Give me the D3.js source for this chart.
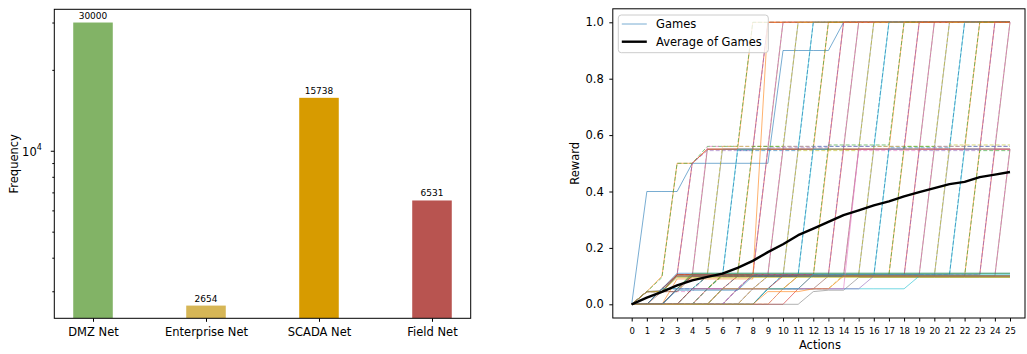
<!DOCTYPE html>
<html>
<head>
<meta charset="utf-8">
<script src="https://cdn.jsdelivr.net/npm/d3@7"></script>
<style>
  body { margin: 0; background: #fff; }
  svg { display: block; }
  text { font-family: "DejaVu Sans", sans-serif; fill: #000; }
</style>
</head>
<body>
<svg id="chart" width="1027" height="354"></svg>
<script>
// ---- Left panel: frequency per network zone ----
const categories = ["DMZ Net", "Enterprise Net", "SCADA Net", "Field Net"];
const frequencies = [30000, 2654, 15738, 6531];
const barColors = ["#82b366", "#d6b656", "#d79b00", "#b85450"];

// ---- Right panel: reward per action for every game ----
const actions = [0, 1, 2, 3, 4, 5, 6, 7, 8, 9, 10, 11, 12, 13, 14, 15, 16, 17, 18, 19, 20, 21, 22, 23, 24, 25];
const rewardTicks = [0, 0.2, 0.4, 0.6, 0.8, 1.0];
const averageReward = [0, 0.024, 0.044, 0.067, 0.085, 0.097, 0.109, 0.129, 0.154, 0.185, 0.213, 0.245, 0.268,
  0.292, 0.316, 0.333, 0.351, 0.365, 0.383, 0.398, 0.412, 0.426, 0.434, 0.451, 0.460, 0.469];

const games = [
  [0,0.4,0.4,0.4,0.5,0.5,0.5,0.5,0.5,0.5,0.9,0.9,0.9,0.9,1,1,1,1,1,1,1,1,1,1,1,1],
  [0,0.045,0.1,0.5,0.5,0.55,0.55,0.55,1,1,1,1,1,1,1,1,1,1,1,1,1,1,1,1,1,1],
  [0,0.045,0.095,0.5,0.5,0.56,0.56,0.56,1,1,1,1,1,1,1,1,1,1,1,1,1,1,1,1,1,1],
  [0,0.045,0.045,0.105,0.5,0.55,0.55,0.55,0.55,1,1,1,1,1,1,1,1,1,1,1,1,1,1,1,1,1],
  [0,0,0.055,0.105,0.5,0.545,0.545,0.545,0.545,1,1,1,1,1,1,1,1,1,1,1,1,1,1,1,1,1],
  [0,0.045,0.045,0.1,0.1,0.55,0.55,0.55,0.55,0.55,1,1,1,1,1,1,1,1,1,1,1,1,1,1,1,1],
  [0,0,0.055,0.055,0.1,0.56,0.56,0.56,0.56,0.56,1,1,1,1,1,1,1,1,1,1,1,1,1,1,1,1],
  [0,0,0,0.055,0.105,0.105,0.55,0.55,0.55,0.55,0.55,1,1,1,1,1,1,1,1,1,1,1,1,1,1,1],
  [0,0.045,0.045,0.045,0.105,0.105,0.56,0.56,0.56,0.56,0.56,1,1,1,1,1,1,1,1,1,1,1,1,1,1,1],
  [0,0,0,0,0.055,0.1,0.1,0.55,0.55,0.55,0.55,0.55,1,1,1,1,1,1,1,1,1,1,1,1,1,1],
  [0,0,0.055,0.055,0.055,0.1,0.1,0.545,0.545,0.545,0.545,0.545,1,1,1,1,1,1,1,1,1,1,1,1,1,1],
  [0,0,0,0,0,0.055,0.105,0.105,0.55,0.55,0.55,0.55,0.55,1,1,1,1,1,1,1,1,1,1,1,1,1],
  [0,0.045,0.045,0.105,0.105,0.105,0.105,0.105,0.56,0.56,0.56,0.56,0.56,1,1,1,1,1,1,1,1,1,1,1,1,1],
  [0,0,0,0,0,0,0.055,0.1,0.1,0.55,0.55,0.55,0.55,0.55,1,1,1,1,1,1,1,1,1,1,1,1],
  [0,0,0,0.055,0.1,0.1,0.1,0.1,0.1,0.555,0.555,0.555,0.555,0.555,1,1,1,1,1,1,1,1,1,1,1,1],
  [0,0,0,0,0,0,0,0.055,0.105,0.105,0.55,0.55,0.55,0.55,0.55,1,1,1,1,1,1,1,1,1,1,1],
  [0,0.045,0.045,0.045,0.045,0.105,0.105,0.105,0.105,0.105,0.56,0.56,0.56,0.56,0.56,1,1,1,1,1,1,1,1,1,1,1],
  [0,0,0,0,0,0,0,0,0.055,0.1,0.1,0.55,0.55,0.55,0.55,0.55,1,1,1,1,1,1,1,1,1,1],
  [0,0,0,0,0.055,0.1,0.1,0.1,0.1,0.1,0.1,0.545,0.545,0.545,0.545,0.545,1,1,1,1,1,1,1,1,1,1],
  [0,0,0,0,0,0,0,0,0,0.055,0.105,0.105,0.55,0.55,0.55,0.55,0.55,1,1,1,1,1,1,1,1,1],
  [0,0,0,0,0,0.055,0.105,0.105,0.105,0.105,0.105,0.105,0.56,0.56,0.56,0.56,0.56,1,1,1,1,1,1,1,1,1],
  [0,0,0,0,0,0,0,0,0,0,0.055,0.1,0.1,0.55,0.55,0.55,0.55,0.55,1,1,1,1,1,1,1,1],
  [0,0,0,0,0,0,0.055,0.1,0.1,0.1,0.1,0.1,0.1,0.565,0.565,0.565,0.565,0.565,1,1,1,1,1,1,1,1],
  [0,0,0,0,0,0,0,0,0,0,0,0.055,0.105,0.105,0.55,0.55,0.55,0.55,0.55,1,1,1,1,1,1,1],
  [0,0,0,0,0,0,0,0.055,0.105,0.105,0.105,0.105,0.105,0.105,0.56,0.56,0.56,0.56,0.56,1,1,1,1,1,1,1],
  [0,0,0,0,0,0,0,0,0,0.055,0.055,0.055,0.055,0.1,0.1,0.55,0.55,0.55,0.55,0.55,1,1,1,1,1,1],
  [0,0,0,0,0,0,0,0,0.055,0.1,0.1,0.1,0.1,0.1,0.1,0.545,0.545,0.545,0.545,0.545,1,1,1,1,1,1],
  [0,0,0,0.055,0.105,0.105,0.105,0.105,0.105,0.105,0.105,0.105,0.105,0.105,0.105,0.105,0.55,0.55,0.55,0.55,0.55,1,1,1,1,1],
  [0,0,0,0,0,0,0,0,0,0,0.055,0.055,0.055,0.055,0.105,0.105,0.56,0.56,0.56,0.56,0.56,1,1,1,1,1],
  [0,0.045,0.045,0.1,0.1,0.1,0.1,0.1,0.1,0.1,0.1,0.1,0.1,0.1,0.1,0.1,0.1,0.55,0.55,0.55,0.55,0.55,1,1,1,1],
  [0,0,0,0,0.055,0.1,0.1,0.1,0.1,0.1,0.1,0.1,0.1,0.1,0.1,0.1,0.1,0.555,0.555,0.555,0.555,0.555,1,1,1,1],
  [0,0,0.055,0.105,0.105,0.105,0.105,0.105,0.105,0.105,0.105,0.105,0.105,0.105,0.105,0.105,0.105,0.105,0.55,0.55,0.55,0.55,0.55,1,1,1],
  [0,0,0,0,0,0.055,0.105,0.105,0.105,0.105,0.105,0.105,0.105,0.105,0.105,0.105,0.105,0.105,0.56,0.56,0.56,0.56,0.56,1,1,1],
  [0,0,0,0.055,0.1,0.1,0.1,0.1,0.1,0.1,0.1,0.1,0.1,0.1,0.1,0.1,0.1,0.1,0.1,0.55,0.55,0.55,0.55,0.55,1,1],
  [0,0,0,0,0,0,0.055,0.1,0.1,0.1,0.1,0.1,0.1,0.1,0.1,0.1,0.1,0.1,0.1,0.545,0.545,0.545,0.545,0.545,1,1],
  [0,0.045,0.045,0.105,0.105,0.105,0.105,0.105,0.105,0.105,0.105,0.105,0.105,0.105,0.105,0.105,0.105,0.105,0.105,0.105,0.55,0.55,0.55,0.55,0.55,1],
  [0,0,0,0,0,0,0,0.055,0.105,0.105,0.105,0.105,0.105,0.105,0.105,0.105,0.105,0.105,0.105,0.105,0.56,0.56,0.56,0.56,0.56,1],
  [0,0,0.055,0.1,0.1,0.1,0.1,0.1,0.1,0.1,0.1,0.1,0.1,0.1,0.1,0.1,0.1,0.1,0.1,0.1,0.1,0.55,0.55,0.55,0.55,0.55],
  [0,0,0,0,0,0,0,0,0.055,0.1,0.1,0.1,0.1,0.1,0.1,0.1,0.1,0.1,0.1,0.1,0.1,0.565,0.565,0.565,0.565,0.565],
  [0,0,0,0.055,0.105,0.105,0.105,0.105,0.105,0.105,0.105,0.105,0.105,0.105,0.105,0.105,0.105,0.105,0.105,0.105,0.105,0.105,0.55,0.55,0.55,0.55],
  [0,0,0,0,0,0,0,0,0,0.055,0.105,0.105,0.105,0.105,0.105,0.105,0.105,0.105,0.105,0.105,0.105,0.105,0.56,0.56,0.56,0.56],
  [0,0.045,0.045,0.1,0.1,0.1,0.1,0.1,0.1,0.1,0.1,0.1,0.1,0.1,0.1,0.1,0.1,0.1,0.1,0.1,0.1,0.1,0.1,0.55,0.55,0.55],
  [0,0,0,0,0,0.055,0.1,0.1,0.1,0.1,0.1,0.1,0.1,0.1,0.1,0.1,0.1,0.1,0.1,0.1,0.1,0.1,0.1,0.545,0.545,0.545],
  [0,0,0.055,0.105,0.105,0.105,0.105,0.105,0.105,0.105,0.105,0.105,0.105,0.105,0.105,0.105,0.105,0.105,0.105,0.105,0.105,0.105,0.105,0.105,0.55,0.55],
  [0,0,0,0,0,0,0,0.055,0.105,0.105,0.105,0.105,0.105,0.105,0.105,0.105,0.105,0.105,0.105,0.105,0.105,0.105,0.105,0.105,0.56,0.56],
  [0,0,0,0.055,0.1,0.1,0.1,0.1,0.1,0.1,0.1,0.1,0.1,0.1,0.1,0.1,0.1,0.1,0.1,0.1,0.1,0.1,0.1,0.1,0.1,0.55],
  [0,0,0,0,0,0,0,0,0,0,0.055,0.1,0.1,0.1,0.1,0.1,0.1,0.1,0.1,0.1,0.1,0.1,0.1,0.1,0.1,0.555],
  [0,0,0,0,0,0,0,0,0,0,0,0,0.045,0.05,0.05,0.095,0.095,0.095,0.095,0.095,0.095,0.095,0.095,0.095,0.095,0.095],
  [0,0.045,0.045,0.095,0.095,0.095,0.095,0.095,0.095,0.095,0.095,0.095,0.095,0.095,0.095,0.095,0.095,0.095,0.095,0.095,0.095,0.095,0.095,0.095,0.095,0.095],
  [0,0,0.055,0.055,0.055,0.055,0.055,0.055,0.055,0.055,0.055,0.055,0.055,0.055,0.055,0.055,0.055,0.055,0.055,0.1,0.1,0.1,0.1,0.1,0.1,0.1],
  [0,0,0.055,0.11,0.11,0.11,0.11,0.11,0.11,0.11,0.11,0.11,0.11,0.11,0.11,0.11,0.11,0.11,0.11,0.11,0.11,0.11,0.11,0.11,0.11,0.11],
  [0,0,0,0.09,0.09,0.09,0.09,0.09,0.09,1,1,1,1,1,1,1,1,1,1,1,1,1,1,1,1,1],
  [0,0,0,0.055,0.11,0.11,0.11,0.11,0.11,0.11,0.11,0.11,0.11,0.11,0.11,0.11,0.11,0.11,0.11,0.11,0.11,0.11,0.11,0.11,0.11,0.11],
  [0,0,0,0,0.055,0.055,0.055,0.055,0.055,0.055,0.1,0.1,0.1,0.1,0.1,0.1,0.1,0.1,0.1,0.1,0.1,0.1,0.1,0.1,0.1,0.1],
  [0,0,0,0.055,0.055,0.055,0.055,0.055,0.055,0.055,0.055,0.055,0.055,0.055,0.055,0.055,0.1,0.1,0.1,0.1,0.1,0.1,0.1,0.1,0.1,0.1],
  [0,0,0.045,0.045,0.1,0.1,0.1,0.1,0.1,0.1,0.1,0.1,0.1,0.1,0.1,0.1,0.1,0.1,0.1,0.1,0.1,0.1,0.1,0.1,0.1,0.1],
  [0,0,0,0,0,0.055,0.055,0.055,0.055,0.055,0.055,0.055,0.055,0.055,0.055,0.55,0.55,0.55,0.55,0.55,0.55,0.55,0.55,0.55,0.55,0.55],
  [0,0.045,0.05,0.1,0.1,0.1,0.1,0.1,0.1,0.1,0.1,0.1,0.1,0.1,0.1,0.1,0.1,0.1,0.1,0.1,0.1,0.1,0.1,0.1,0.1,0.1],
  [0,0,0,0,0,0,0.055,0.055,0.055,0.055,0.055,0.1,0.1,0.1,0.1,0.1,0.1,0.1,0.1,0.1,0.1,0.1,0.1,0.1,0.1,0.1],
  [0,0,0,0,0,0,0,0,0,0.055,0.055,0.055,0.105,0.105,0.105,0.105,0.105,0.105,0.105,0.105,0.105,0.105,0.105,0.105,0.105,0.105],
  [0,0,0,0.05,0.05,0.05,0.05,0.05,0.1,0.1,0.1,0.1,0.1,0.1,0.1,0.1,0.1,0.1,0.1,0.1,0.1,0.1,0.1,0.1,0.1,0.1],
  [0,0,0,0,0,0,0,0,0,0.045,0.045,0.045,0.055,0.055,0.1,0.1,0.1,0.1,0.1,0.1,0.1,0.1,0.1,0.1,0.1,0.1]
];

const svg = d3.select("#chart");
const palette = d3.schemeCategory10;

// ================= Left panel =================
const L = { left: 54.3, right: 470.7, top: 9.3, bottom: 318.3 };

const xCat = d3.scalePoint()
  .domain(categories)
  .range([L.left, L.right])
  .padding(0.3425);
const barW = xCat.step() * 0.35;

const yLog = d3.scaleLog()
  .domain([2380, 33600])
  .range([L.bottom, L.top]);

svg.append("clipPath").attr("id", "clipL")
  .append("rect")
  .attr("x", L.left).attr("y", L.top)
  .attr("width", L.right - L.left).attr("height", L.bottom - L.top);

const left = svg.append("g");

left.append("g").attr("clip-path", "url(#clipL)")
  .selectAll("rect")
  .data(frequencies)
  .join("rect")
  .attr("x", (d, i) => xCat(categories[i]) - barW / 2)
  .attr("y", d => yLog(d))
  .attr("width", barW)
  .attr("height", d => L.bottom - yLog(d))
  .attr("fill", (d, i) => barColors[i]);

left.append("g")
  .selectAll("text")
  .data(frequencies)
  .join("text")
  .attr("x", (d, i) => xCat(categories[i]))
  .attr("y", d => yLog(d) - 4)
  .attr("text-anchor", "middle")
  .attr("font-size", 9)
  .text(d => d);

// x axis
const xAxisL = left.append("g")
  .attr("transform", `translate(0,${L.bottom})`)
  .call(d3.axisBottom(xCat).tickSize(3.5).tickPadding(6).tickSizeOuter(0));
xAxisL.select(".domain").remove();
xAxisL.selectAll("text").attr("font-size", 11.5).attr("font-family", "DejaVu Sans").attr("fill", "#000");

// y axis: one major decade tick and minor ticks
const yMajorL = left.append("g")
  .attr("transform", `translate(${L.left},0)`)
  .call(d3.axisLeft(yLog).tickValues([10000]).tickSize(3.5).tickPadding(9).tickSizeOuter(0).tickFormat(() => ""));
yMajorL.select(".domain").remove();
yMajorL.selectAll(".tick text").each(function () {
  const t = d3.select(this);
  t.attr("font-size", 11.5).attr("font-family", "DejaVu Sans").attr("fill", "#000").attr("dy", "0.45em");
  t.append("tspan").text("10");
  t.append("tspan").attr("font-size", 8).attr("dy", "-0.75em").text("4");
});

const minorL = [3000, 4000, 5000, 6000, 7000, 8000, 9000, 20000, 30000];
const yMinorL = left.append("g")
  .attr("transform", `translate(${L.left},0)`)
  .call(d3.axisLeft(yLog).tickValues(minorL).tickSize(2).tickSizeOuter(0).tickFormat(() => ""));
yMinorL.select(".domain").remove();

left.append("rect")
  .attr("x", L.left).attr("y", L.top)
  .attr("width", L.right - L.left).attr("height", L.bottom - L.top)
  .attr("fill", "none").attr("stroke", "#000").attr("stroke-width", 1);

left.append("text")
  .attr("transform", `translate(17.7,${(L.top + L.bottom) / 2}) rotate(-90)`)
  .attr("text-anchor", "middle")
  .attr("font-size", 11.5)
  .text("Frequency");

// ================= Right panel =================
const R = { left: 612.8, right: 1025, top: 8.8, bottom: 318 };

const xAct = d3.scaleLinear().domain([0, 25]).range([631.7, 1010]);
const yRew = d3.scaleLinear().domain([0, 1]).range([304.3, 22.3]);

svg.append("clipPath").attr("id", "clipR")
  .append("rect")
  .attr("x", R.left).attr("y", R.top)
  .attr("width", R.right - R.left).attr("height", R.bottom - R.top);

const right = svg.append("g");

const line = d3.line()
  .x((d, i) => xAct(actions[i]))
  .y(d => yRew(d));

// paired runs: the second run of each pair is drawn dashed over the first
const isDashed = i => i >= 2 && i <= 46 && i % 2 === 0;

right.append("g").attr("clip-path", "url(#clipR)")
  .selectAll("path")
  .data(games)
  .join("path")
  .attr("d", line)
  .attr("fill", "none")
  .attr("stroke", (d, i) => palette[i % 10])
  .attr("stroke-opacity", 0.6)
  .attr("stroke-width", 1)
  .attr("stroke-dasharray", (d, i) => isDashed(i) ? "4,2" : null);

right.append("path")
  .datum(averageReward)
  .attr("clip-path", "url(#clipR)")
  .attr("d", line)
  .attr("fill", "none")
  .attr("stroke", "#000")
  .attr("stroke-width", 2.4)
  .attr("stroke-linejoin", "round");

// axes
const xAxisR = right.append("g")
  .attr("transform", `translate(0,${R.bottom})`)
  .call(d3.axisBottom(xAct).tickValues(actions).tickFormat(d3.format("d")).tickSize(3.5).tickPadding(6).tickSizeOuter(0));
xAxisR.select(".domain").remove();
xAxisR.selectAll("text").attr("font-size", 8.5).attr("font-family", "DejaVu Sans").attr("fill", "#000");

const yAxisR = right.append("g")
  .attr("transform", `translate(${R.left},0)`)
  .call(d3.axisLeft(yRew).tickValues(rewardTicks).tickFormat(d3.format(".1f")).tickSize(3.5).tickPadding(5.5).tickSizeOuter(0));
yAxisR.select(".domain").remove();
yAxisR.selectAll("text").attr("font-size", 11.5).attr("font-family", "DejaVu Sans").attr("fill", "#000");

right.append("rect")
  .attr("x", R.left).attr("y", R.top)
  .attr("width", R.right - R.left).attr("height", R.bottom - R.top)
  .attr("fill", "none").attr("stroke", "#000").attr("stroke-width", 1);

right.append("text")
  .attr("x", (R.left + R.right) / 2 + 1)
  .attr("y", 348.5)
  .attr("text-anchor", "middle")
  .attr("font-size", 11.5)
  .text("Actions");

right.append("text")
  .attr("transform", `translate(578.5,${(R.top + R.bottom) / 2}) rotate(-90)`)
  .attr("text-anchor", "middle")
  .attr("font-size", 11.5)
  .text("Reward");

// legend
const legend = right.append("g").attr("transform", "translate(618.3,15)");
legend.append("rect")
  .attr("width", 150).attr("height", 37.7)
  .attr("rx", 3)
  .attr("fill", "#fff").attr("fill-opacity", 0.8)
  .attr("stroke", "#cccccc").attr("stroke-width", 1);
legend.append("line")
  .attr("x1", 3.5).attr("x2", 28.5).attr("y1", 9).attr("y2", 9)
  .attr("stroke", palette[0]).attr("stroke-opacity", 0.6).attr("stroke-width", 1);
legend.append("text").attr("x", 37.7).attr("y", 13.3).attr("font-size", 11.5).text("Games");
legend.append("line")
  .attr("x1", 3.5).attr("x2", 28.5).attr("y1", 26.7).attr("y2", 26.7)
  .attr("stroke", "#000").attr("stroke-width", 2.4);
legend.append("text").attr("x", 37.7).attr("y", 30.5).attr("font-size", 11.5).text("Average of Games");
</script>
</body>
</html>
